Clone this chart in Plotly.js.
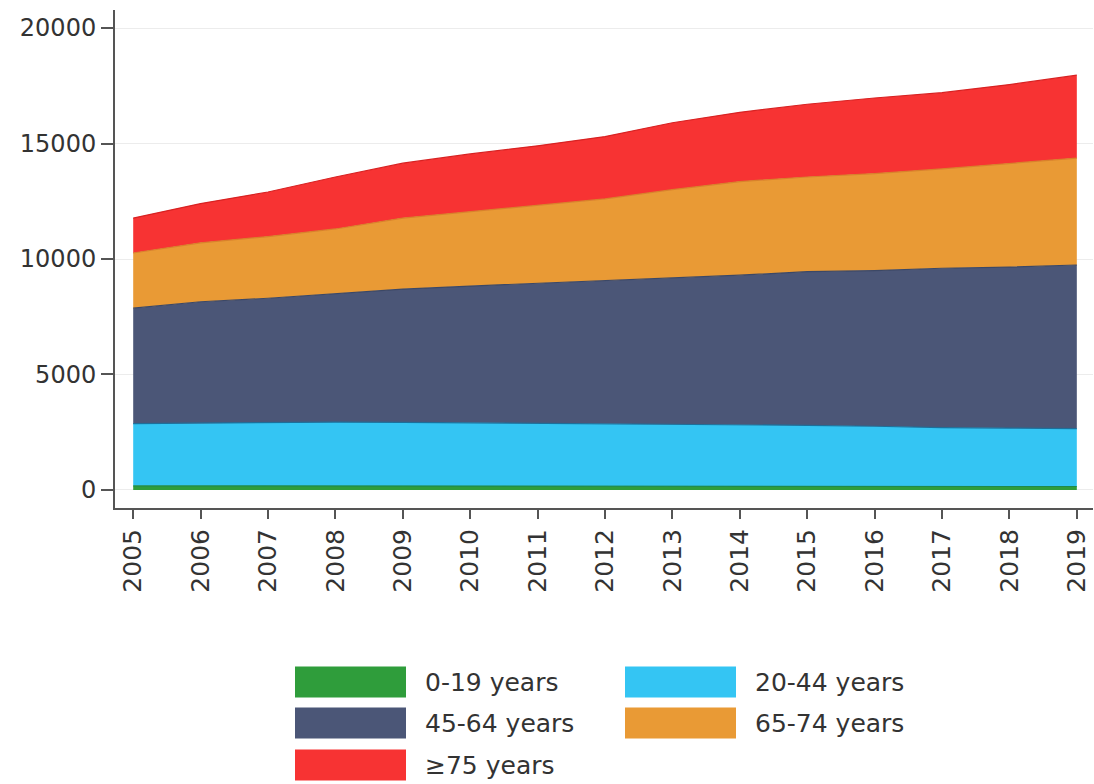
<!DOCTYPE html>
<html>
<head>
<meta charset="utf-8">
<script src="https://cdn.plot.ly/plotly-3.0.1.min.js"></script>
<style>html,body{margin:0;padding:0;background:#fff;}#chart{width:1094px;height:784px;}</style>
</head>
<body>
<div id="chart"></div>
<script>
// ---- data ----
const years = [2005,2006,2007,2008,2009,2010,2011,2012,2013,2014,2015,2016,2017,2018,2019];
const seriesNames = ["0-19 years","20-44 years","45-64 years","65-74 years","\u226575 years"];
const age0_19  = [180,180,175,175,170,170,165,165,160,160,155,155,150,150,150];
const age20_44 = [2690,2720,2745,2765,2760,2740,2725,2705,2700,2690,2645,2605,2550,2530,2510];
const age45_64 = [5000,5250,5380,5560,5770,5920,6060,6180,6320,6450,6650,6740,6900,6970,7080];
const age65_74 = [2390,2550,2670,2800,3070,3220,3350,3550,3820,4050,4100,4200,4300,4500,4630];
const age75up  = [1510,1700,1930,2250,2380,2500,2600,2700,2900,3000,3150,3270,3300,3400,3590];
const yTicks = [0,5000,10000,15000,20000];

// ---- styles ----
const fillColors = ["#2f9d3b","#34c5f3","#4b5677","#e99a35","#f73333"];
const lineColors = ["#1f8a4a","#1d6f9a","#3c4866","#d8822a","#d82222"];
const values = [age0_19, age20_44, age45_64, age65_74, age75up];

const traces = values.map((v,i)=>({
  type:"scatter", mode:"lines", x:years, y:v, name:seriesNames[i],
  stackgroup:"one", fillcolor:fillColors[i],
  line:{color:lineColors[i], width:1.2}, showlegend:false, hoverinfo:"x+y+name"
}));

const W=1094,H=784,ML=115,MR=1,MT=10,MB=276;
const PW=W-ML-MR, PH=H-MT-MB;
const px=x=>(x-ML)/PW, py=y=>(MT+PH-y)/PH;

// custom legend (two columns, wide swatches)
const legendItems = [
  {i:0, bx:295, tx:423, cy:682},
  {i:1, bx:625, tx:753, cy:682},
  {i:2, bx:295, tx:423, cy:723},
  {i:3, bx:625, tx:753, cy:723},
  {i:4, bx:295, tx:423, cy:765}
];
const shapes=[], annotations=[];
legendItems.forEach(it=>{
  shapes.push({type:"rect", xref:"paper", yref:"paper",
    x0:px(it.bx), x1:px(it.bx+111), y0:py(it.cy-15.5), y1:py(it.cy+15.5),
    fillcolor:fillColors[it.i], line:{width:0}});
  annotations.push({xref:"paper", yref:"paper", x:px(it.tx), y:py(it.cy),
    xanchor:"left", yanchor:"middle", showarrow:false, text:seriesNames[it.i],
    font:{family:"DejaVu Sans", size:25, color:"#333333"}});
});

const layout = {
  width:W, height:H,
  margin:{l:ML, r:MR, t:MT, b:MB, pad:0},
  paper_bgcolor:"#ffffff", plot_bgcolor:"#ffffff",
  showlegend:false,
  xaxis:{
    range:[2004.73, 2019.24], tickmode:"array", tickvals:years, ticktext:years.map(String),
    tickangle:-90, ticks:"outside", ticklen:9, tickwidth:2, tickcolor:"#555",
    showline:true, linecolor:"#555", linewidth:2, showgrid:false, zeroline:false,
    tickfont:{family:"DejaVu Sans", size:25, color:"#333333"}
  },
  yaxis:{
    range:[-780, 20780], tickmode:"array", tickvals:yTicks, ticktext:yTicks.map(String),
    ticks:"outside", ticklen:12, tickwidth:2, tickcolor:"#555",
    showline:true, linecolor:"#555", linewidth:2,
    showgrid:true, gridcolor:"#ececec", gridwidth:1, zeroline:false,
    tickfont:{family:"DejaVu Sans", size:24, color:"#333333"}
  },
  shapes:shapes, annotations:annotations
};

Plotly.newPlot("chart", traces, layout, {displayModeBar:false, staticPlot:true});
</script>
</body>
</html>
